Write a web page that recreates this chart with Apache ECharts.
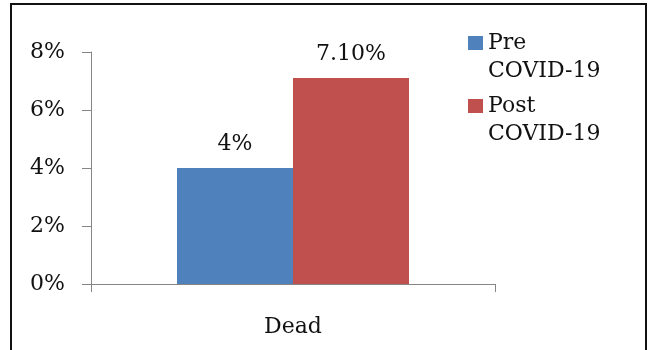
<!DOCTYPE html>
<html>
<head>
<meta charset="utf-8">
<script src="https://cdn.jsdelivr.net/npm/echarts@6/dist/echarts.min.js"></script>
<style>
html,body{margin:0;padding:0;background:#fff;}
#chart{width:649px;height:350px;}
</style>
</head>
<body>
<div id="chart"></div>
<script>
var categories = ['Dead'];
var seriesNames = ['Pre COVID-19', 'Post COVID-19'];
var preValues = [4];
var postValues = [7.1];
var preLabels = ['4%'];
var postLabels = ['7.10%'];
var yTicks = [0, 2, 4, 6, 8];

var FONT = 'DejaVu Serif';
var chart = echarts.init(document.getElementById('chart'), null, {renderer: 'canvas'});
chart.setOption({
  animation: false,
  backgroundColor: '#ffffff',
  graphic: [{
    type: 'rect',
    shape: {x: 11, y: 4, width: 635, height: 360},
    style: {fill: 'none', stroke: '#111111', lineWidth: 2},
    silent: true
  }],
  legend: {
    orient: 'vertical',
    left: 463,
    top: -4,
    itemWidth: 15,
    itemHeight: 14,
    itemGap: -21,
    icon: 'rect',
    data: seriesNames,
    formatter: function (name) {
      var parts = name.split(' ');
      return '\n' + parts[0] + '\n' + parts[1];
    },
    textStyle: {fontFamily: FONT, fontSize: 22, color: '#111111', lineHeight: 28}
  },
  grid: {left: 91, right: 154, top: 52, bottom: 66, containLabel: false},
  xAxis: {
    type: 'category',
    data: categories,
    axisLine: {lineStyle: {color: '#868686', width: 1}},
    axisTick: {show: true, length: 8, lineStyle: {color: '#868686'}},
    axisLabel: {fontFamily: FONT, fontSize: 22, color: '#111111', margin: 32}
  },
  yAxis: {
    type: 'value',
    min: yTicks[0],
    max: yTicks[yTicks.length - 1],
    interval: 2,
    axisLine: {show: true, lineStyle: {color: '#868686', width: 1}},
    axisTick: {show: true, length: 9, lineStyle: {color: '#868686'}},
    splitLine: {show: false},
    axisLabel: {fontFamily: FONT, fontSize: 22, color: '#111111', margin: 26,
      formatter: function (v) { return v + '%'; }}
  },
  series: [{
    name: seriesNames[0],
    type: 'bar',
    data: preValues,
    barWidth: 116,
    barGap: '0%',
    itemStyle: {color: '#4F81BD'},
    label: {show: true, position: 'top', distance: 13, fontFamily: FONT, fontSize: 22, color: '#111111',
      formatter: function (p) { return preLabels[p.dataIndex]; }}
  }, {
    name: seriesNames[1],
    type: 'bar',
    data: postValues,
    barWidth: 116,
    barGap: '0%',
    itemStyle: {color: '#C0504D'},
    label: {show: true, position: 'top', distance: 13, fontFamily: FONT, fontSize: 22, color: '#111111',
      formatter: function (p) { return postLabels[p.dataIndex]; }}
  }]
});
</script>
</body>
</html>
